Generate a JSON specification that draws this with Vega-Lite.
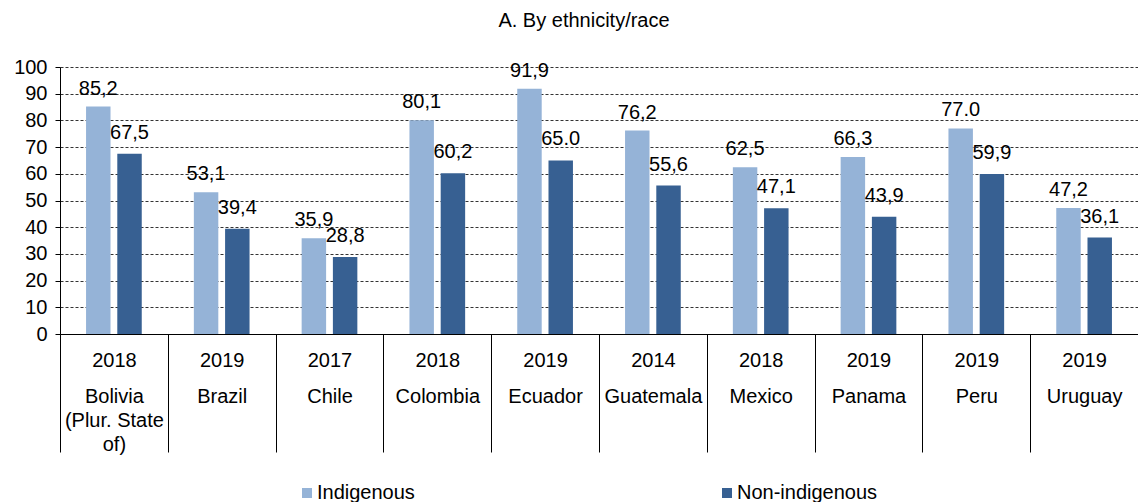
{
  "$schema": "https://vega.github.io/schema/vega-lite/v6.json",
  "width": 1078,
  "height": 267,
  "autosize": {"type": "none"},
  "padding": {"left": 60, "top": 67, "right": 0, "bottom": 168},
  "background": "white",
  "title": {
    "text": "A. By ethnicity/race",
    "font": "Liberation Sans",
    "fontSize": 20,
    "fontWeight": "normal",
    "color": "#000000",
    "anchor": "middle",
    "dx": -15,
    "offset": 26
  },
  "config": {
    "view": {"stroke": null},
    "font": "Liberation Sans"
  },
  "data": {
    "values": [
      {"cat": "2018|Bolivia|(Plur. State|of)", "group": "Indigenous", "value": 85.2, "label": "85,2"},
      {"cat": "2018|Bolivia|(Plur. State|of)", "group": "Non-indigenous", "value": 67.5, "label": "67,5"},
      {"cat": "2019|Brazil", "group": "Indigenous", "value": 53.1, "label": "53,1"},
      {"cat": "2019|Brazil", "group": "Non-indigenous", "value": 39.4, "label": "39,4"},
      {"cat": "2017|Chile", "group": "Indigenous", "value": 35.9, "label": "35,9"},
      {"cat": "2017|Chile", "group": "Non-indigenous", "value": 28.8, "label": "28,8"},
      {"cat": "2018|Colombia", "group": "Indigenous", "value": 80.1, "label": "80,1"},
      {"cat": "2018|Colombia", "group": "Non-indigenous", "value": 60.2, "label": "60,2"},
      {"cat": "2019|Ecuador", "group": "Indigenous", "value": 91.9, "label": "91,9"},
      {"cat": "2019|Ecuador", "group": "Non-indigenous", "value": 65.0, "label": "65.0"},
      {"cat": "2014|Guatemala", "group": "Indigenous", "value": 76.2, "label": "76,2"},
      {"cat": "2014|Guatemala", "group": "Non-indigenous", "value": 55.6, "label": "55,6"},
      {"cat": "2018|Mexico", "group": "Indigenous", "value": 62.5, "label": "62,5"},
      {"cat": "2018|Mexico", "group": "Non-indigenous", "value": 47.1, "label": "47,1"},
      {"cat": "2019|Panama", "group": "Indigenous", "value": 66.3, "label": "66,3"},
      {"cat": "2019|Panama", "group": "Non-indigenous", "value": 43.9, "label": "43,9"},
      {"cat": "2019|Peru", "group": "Indigenous", "value": 77.0, "label": "77.0"},
      {"cat": "2019|Peru", "group": "Non-indigenous", "value": 59.9, "label": "59,9"},
      {"cat": "2019|Uruguay", "group": "Indigenous", "value": 47.2, "label": "47,2"},
      {"cat": "2019|Uruguay", "group": "Non-indigenous", "value": 36.1, "label": "36,1"}
    ]
  },
  "encoding": {
    "x": {
      "field": "cat",
      "type": "nominal",
      "sort": null,
      "scale": {"paddingInner": 0, "paddingOuter": 0},
      "axis": {
        "title": null,
        "labelAngle": 0,
        "labelFontSize": 20,
        "labelColor": "#000000",
        "labelFont": "Liberation Sans",
        "labelLineHeight": 12,
        "labelBaseline": "top",
        "labelExpr": "datum.value ? (length(split(datum.value,'|')) > 2 ? [split(datum.value,'|')[0], '\u200b', '\u200b', split(datum.value,'|')[1], '\u200b', split(datum.value,'|')[2], '\u200b', split(datum.value,'|')[3]] : [split(datum.value,'|')[0], '\u200b', '\u200b', split(datum.value,'|')[1]]) : ''",
        "tickBand": "extent",
        "tickSize": 118,
        "tickColor": "#000000",
        "tickWidth": 1,
        "labelPadding": -102,
        "domainColor": "#000000",
        "domainWidth": 1,
        "labelBound": false,
        "labelOverlap": false
      }
    },
    "xOffset": {
      "field": "group",
      "type": "nominal",
      "scale": {"paddingInner": 0.217, "paddingOuter": 0.834}
    },
    "y": {
      "field": "value",
      "type": "quantitative",
      "scale": {"domain": [0, 100], "nice": false},
      "axis": {
        "title": null,
        "values": [0, 10, 20, 30, 40, 50, 60, 70, 80, 90, 100],
        "labelFontSize": 20,
        "labelColor": "#000000",
        "labelFont": "Liberation Sans",
        "labelPadding": 8,
        "tickSize": 5,
        "tickColor": "#000000",
        "domainColor": "#000000",
        "grid": true,
        "gridColor": "#333333",
        "gridDash": [3, 2],
        "gridWidth": 1
      }
    }
  },
  "layer": [
    {
      "mark": {"type": "bar"},
      "encoding": {
        "color": {
          "field": "group",
          "type": "nominal",
          "scale": {"domain": ["Indigenous", "Non-indigenous"], "range": ["#95b3d7", "#376092"]},
          "legend": {
            "title": null,
            "orient": "none",
            "legendX": 237,
            "legendY": 416,
            "direction": "horizontal",
            "columns": 2,
            "columnPadding": 302,
            "symbolType": "square",
            "symbolSize": 100,
            "symbolStrokeWidth": 0,
            "labelFontSize": 20,
            "labelFont": "Liberation Sans",
            "labelColor": "#000000",
            "labelOffset": 0,
            "padding": 0
          }
        }
      }
    },
    {
      "transform": [{"filter": "datum.group === 'Indigenous'"}],
      "mark": {"type": "text", "baseline": "alphabetic", "dy": -12, "fontSize": 20, "font": "Liberation Sans", "color": "#000000"},
      "encoding": {"text": {"field": "label"}}
    },
    {
      "transform": [{"filter": "datum.group === 'Non-indigenous'"}],
      "mark": {"type": "text", "baseline": "alphabetic", "dy": -15, "fontSize": 20, "font": "Liberation Sans", "color": "#000000"},
      "encoding": {"text": {"field": "label"}}
    }
  ]
}
